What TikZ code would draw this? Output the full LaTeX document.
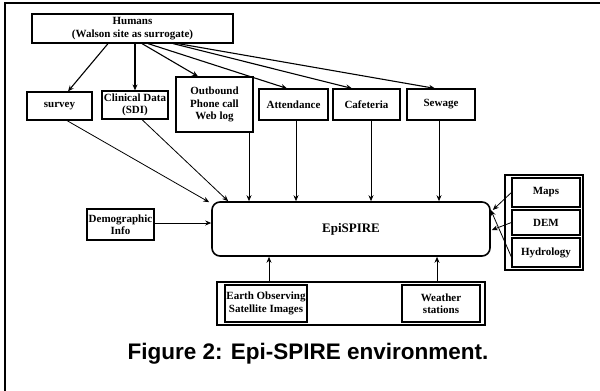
\documentclass[tikz,border=0pt]{standalone}
\usepackage{fontspec}
\setmainfont{Liberation Serif}
\newfontfamily\capfont{Liberation Sans}
\usepackage{tikz}
\usetikzlibrary{arrows.meta}

\begin{document}
\begin{tikzpicture}[x=1pt, y=-1pt, every node/.style={font=\bfseries\fontsize{11}{12.5}\selectfont}]
        \tikzstyle{box} = [draw, line width=1.2pt, rectangle, align=center, inner sep=0pt, fill=white]
        \tikzstyle{arr} = [-{Stealth[length=6pt, width=5pt]}, line width=0.8pt]
        \useasboundingbox (0,0) rectangle (600,391);
        % frame
        \draw[line width=1.6pt] (5,391) -- (5,3) -- (600,3);
        % sources
        \node[box, minimum width=201, minimum height=29] (hum) at (132.5,28.5) {Humans\\(Walson site as surrogate)};
        \node[box, minimum width=65, minimum height=28] (sur) at (59.5,106) {survey};
        \node[box, minimum width=66, minimum height=28] (cli) at (135,105) {Clinical Data\\(SDI)};
        \node[box, minimum width=77, minimum height=55] (out) at (214.5,104.5) {Outbound\\Phone call\\Web log};
        \node[box, minimum width=69, minimum height=31] (att) at (293.5,104.5) {Attendance};
        \node[box, minimum width=67, minimum height=31] (caf) at (366.5,104.5) {Cafeteria};
        \node[box, minimum width=68, minimum height=31] (sew) at (441,104.5) {Sewage};
        \node[box, minimum width=67, minimum height=31] (dem) at (120.5,224.5) {Demographic\\Info};
        % core
        \node[box, line width=1.6pt, rounded corners=8pt, minimum width=278, minimum height=54, font=\bfseries\fontsize{13}{14}\selectfont] (epi) at (351,229) {EpiSPIRE};
        % geo data
        \node[box, line width=1.6pt, minimum width=78, minimum height=95] (geo) at (544,222.5) {};
        \node[box, minimum width=68, minimum height=29] (map) at (546,192.5) {Maps};
        \node[box, minimum width=68, minimum height=25] (elev) at (546,222.5) {DEM};
        \node[box, minimum width=68, minimum height=29] (hyd) at (546,252.5) {Hydrology};
        % sensing
        \node[box, line width=1.6pt, minimum width=268, minimum height=43] (sens) at (351,303.5) {};
        \node[box, minimum width=82, minimum height=37] (eos) at (266,303.5) {Earth Observing\\Satellite Images};
        \node[box, minimum width=78, minimum height=37] (wx) at (441,303.5) {Weather\\stations};
        \node[font=\capfont\bfseries\fontsize{22.5}{25}\selectfont] (cap) at (308,354) {Figure 2: Epi-SPIRE environment.};
        % humans to sources
        \draw[arr, line width=1.1pt] ([xshift=-24.5]hum.south) -- ([xshift=8.5]sur.north);
        \draw[arr, line width=1.1pt] ([xshift=2.5]hum.south) -- ([xshift=2.5]hum.south |- cli.north);
        \draw[arr, line width=1.1pt] ([xshift=9.5]hum.south) -- ([xshift=-16.5]out.north);
        \draw[arr, line width=1.1pt] ([xshift=15.5]hum.south) -- ([xshift=-6.5]att.north);
        \draw[arr, line width=1.1pt] ([xshift=40.5]hum.south) -- ([xshift=-14.5]caf.north);
        \draw[arr, line width=1.1pt] ([xshift=45.5]hum.south) -- ([xshift=-6]sew.north);
        % sources to core
        \draw[arr] ([xshift=7.5]sur.south) -- ([shift={(-2,1)}]epi.north west);
        \draw[arr] ([xshift=7]cli.south) -- ([xshift=17]epi.north west);
        \draw[arr] ([xshift=34.5]out.south) -- ([xshift=34.5]out.south |- epi.north);
        \draw[arr] ([xshift=2.5]att.south) -- ([xshift=2.5]att.south |- epi.north);
        \draw[arr] ([xshift=4.5]caf.south) -- ([xshift=4.5]caf.south |- epi.north);
        \draw[arr] ([xshift=-2]sew.south) -- ([xshift=-2]sew.south |- epi.north);
        \draw[arr] ([yshift=1.5]dem.east) -- ([yshift=1.5]dem.east -| epi.west);
        \draw[arr] (map.west) -- ([shift={(2,-19)}]epi.east);
        \draw[arr] (elev.west) -- ([shift={(1,1)}]epi.east);
        \draw[arr] ([yshift=-4.5]hyd.west) -- ([yshift=19]epi.east);
        \draw[arr] ([xshift=3]eos.north |- sens.north) -- ([xshift=3]eos.north |- epi.south);
        \draw[arr] ([xshift=-4]wx.north |- sens.north) -- ([xshift=-4]wx.north |- epi.south);
      \end{tikzpicture}
\end{document}
